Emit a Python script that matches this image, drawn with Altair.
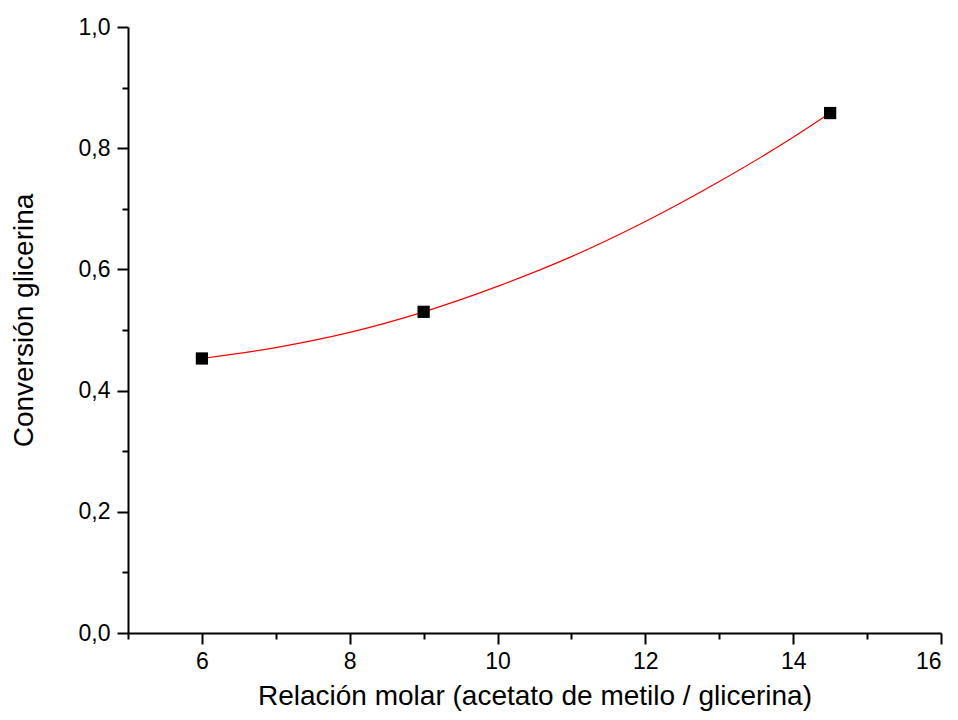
import altair as alt
import pandas as pd

# measured points
ratio = [6, 9, 14.5]
conversion = [0.453, 0.530, 0.858]

# fitted curve
curve_x = [6, 7, 8, 9, 10, 11, 12, 13, 14, 14.5]
curve_y = [0.453, 0.471, 0.496, 0.530, 0.572, 0.621, 0.679, 0.745, 0.818, 0.858]

x_major = [6, 8, 10, 12, 14, 16]
x_minor = [5, 7, 9, 11, 13, 15]
y_major = [0.0, 0.2, 0.4, 0.6, 0.8, 1.0]
y_minor = [0.1, 0.3, 0.5, 0.7, 0.9]

pts = pd.DataFrame({"x": ratio, "y": conversion})
crv = pd.DataFrame({"x": curve_x, "y": curve_y})

FONT = "Liberation Sans"
xscale = alt.Scale(domain=[5, 16], nice=False, zero=False)
yscale = alt.Scale(domain=[0, 1], nice=False, zero=False)
lab = "replace(format(datum.value, '.1f'), '.', ',')"

xaxis = alt.Axis(values=x_major, title="Relación molar (acetato de metilo / glicerina)",
                 format="d", tickSize=11, tickWidth=2, domainWidth=2,
                 domainColor="black", tickColor="black", labelColor="black",
                 labelFont=FONT, labelFontSize=23, labelPadding=6,
                 titleFont=FONT, titleFontSize=28, titleFontWeight="normal",
                 titleColor="black", titlePadding=9, grid=False, orient="bottom")
yaxis = alt.Axis(values=y_major, title="Conversión glicerina", labelExpr=lab,
                 tickSize=11, tickWidth=2, domainWidth=2,
                 domainColor="black", tickColor="black", labelColor="black",
                 labelFont=FONT, labelFontSize=23, labelPadding=7,
                 titleFont=FONT, titleFontSize=28, titleFontWeight="normal",
                 titleColor="black", titlePadding=40, titleY=293,
                 grid=False, orient="left")

line = alt.Chart(crv).mark_line(color="#ff0000", strokeWidth=1.2, interpolate="monotone").encode(
    x=alt.X("x:Q", scale=xscale, axis=xaxis),
    y=alt.Y("y:Q", scale=yscale, axis=yaxis),
)
points = alt.Chart(pts).mark_square(color="black", size=150, opacity=1).encode(
    x=alt.X("x:Q", scale=xscale),
    y=alt.Y("y:Q", scale=yscale),
)
main = alt.layer(line, points)

minor = alt.Chart(pts).mark_point(opacity=0).encode(
    x=alt.X("x:Q", scale=xscale,
            axis=alt.Axis(values=x_minor, labels=False, domain=False, tickSize=6,
                          tickWidth=2, tickColor="black", title=None, grid=False,
                          orient="bottom")),
    y=alt.Y("y:Q", scale=yscale,
            axis=alt.Axis(values=y_minor, labels=False, domain=False, tickSize=6,
                          tickWidth=2, tickColor="black", title=None, grid=False,
                          orient="left")),
)

chart = alt.layer(main, minor).resolve_axis(x="independent", y="independent").properties(
    width=813, height=606,
    background="white",
    autosize=alt.AutoSizeParams(type="none"),
    padding={"left": 120, "top": 19, "right": 9, "bottom": 79},
).configure_view(stroke=None, strokeWidth=0)

chart.save("out.html", embed_options={"renderer": "svg", "actions": False})
